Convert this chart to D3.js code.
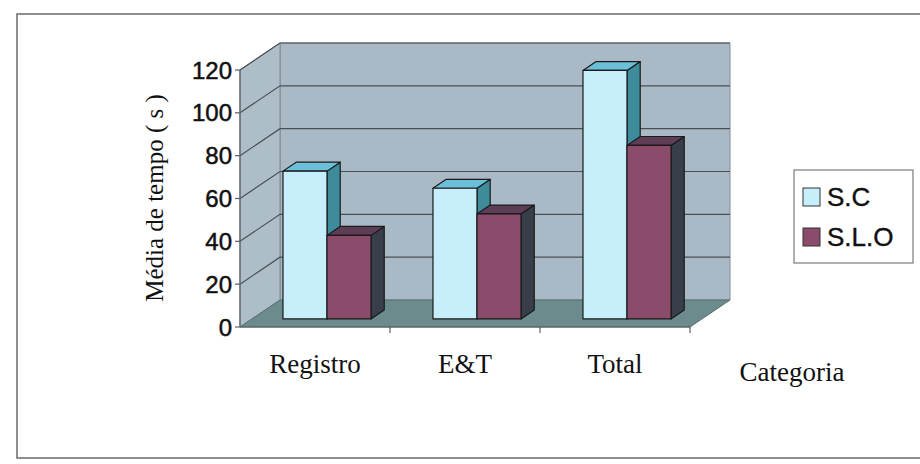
<!DOCTYPE html>
<html>
<head>
<meta charset="utf-8">
<script src="https://cdnjs.cloudflare.com/ajax/libs/d3/7.8.5/d3.min.js"></script>
<style>
  html, body { margin: 0; padding: 0; background: #fff; }
  svg { display: block; }
</style>
</head>
<body>
<div id="chart"></div>
<script>
const categorias = ["Registro", "E&T", "Total"];
const series = ["S.C", "S.L.O"];
const valoresSC = [69, 61, 116];
const valoresSLO = [39, 49, 81];
const yTicks = [0, 20, 40, 60, 80, 100, 120];

const width = 920, height = 464;
const svg = d3.select("#chart").append("svg")
  .attr("width", width).attr("height", height);

// moldura
svg.append("path")
  .attr("d", "M930,14 L17,14 L17,458 L930,458")
  .attr("fill", "none").attr("stroke", "#6a6a6a").attr("stroke-width", 1.5);

// geometria 3D (deslocamento da profundidade)
const DX = 40, DY = -27;
const x0 = 240, x1 = 690;

const x = d3.scaleBand().domain(categorias).range([x0, x1])
  .paddingInner(0.413).paddingOuter(0.2065);
const xs = d3.scaleBand().domain(series).range([0, x.bandwidth()]);
const y = d3.scaleLinear().domain([0, 120]).range([327, 70]);

const P = (px, v, d) => [px + d * DX, y(v) + d * DY];
const poly = pts => "M" + pts.map(p => p.join(",")).join("L") + "Z";

const gWall = svg.append("g");
// parede do fundo
gWall.append("path")
  .attr("d", poly([P(x0, 0, 1), P(x1, 0, 1), P(x1, 120, 1), P(x0, 120, 1)]))
  .attr("fill", "#a9b9c5").attr("stroke", "#7d8a94").attr("stroke-width", 1);
// parede lateral
gWall.append("path")
  .attr("d", poly([P(x0, 0, 0), P(x0, 0, 1), P(x0, 120, 1), P(x0, 120, 0)]))
  .attr("fill", "#aebec9").attr("stroke", "#7d8a94").attr("stroke-width", 1);
// piso
gWall.append("path")
  .attr("d", poly([P(x0, 0, 0), P(x1, 0, 0), P(x1, 0, 1), P(x0, 0, 1)]))
  .attr("fill", "#6b8b8c").attr("stroke", "#55706f").attr("stroke-width", 1);

// linhas de grade
yTicks.filter(v => v > 0).forEach(v => {
  gWall.append("path")
    .attr("d", "M" + P(x0, v, 0) + "L" + P(x0, v, 1) + "L" + P(x1, v, 1))
    .attr("fill", "none").attr("stroke", "#4a5054").attr("stroke-width", 1.2);
});

// eixo y
const gAxis = svg.append("g");
gAxis.append("line")
  .attr("x1", x0).attr("x2", x0).attr("y1", y(0)).attr("y2", y(120))
  .attr("stroke", "#5a6066").attr("stroke-width", 1.2);
yTicks.forEach(v => {
  gAxis.append("line")
    .attr("x1", x0 - 5).attr("x2", x0).attr("y1", y(v)).attr("y2", y(v))
    .attr("stroke", "#5a6066").attr("stroke-width", 1.2);
  gAxis.append("text")
    .attr("x", x0 - 8).attr("y", y(v)).attr("dy", "0.36em")
    .attr("text-anchor", "end")
    .attr("font-family", "Liberation Sans, Arial, sans-serif")
    .attr("font-size", 24).attr("fill", "#111")
    .attr("stroke", "#111").attr("stroke-width", 0.5)
    .text(v);
});

// eixo x (borda frontal do piso)
gAxis.append("line")
  .attr("x1", x0).attr("x2", x1).attr("y1", y(0)).attr("y2", y(0))
  .attr("stroke", "#5a6066").attr("stroke-width", 1.2);
categorias.forEach((c, i) => {
  const xt = x0 + x.step() * (i + 1);
  gAxis.append("line")
    .attr("x1", xt).attr("x2", xt).attr("y1", y(0)).attr("y2", y(0) + 6)
    .attr("stroke", "#5a6066").attr("stroke-width", 1.2);
});

// barras 3D
const cores = {
  "S.C": { front: "#c6effb", top: "#6cbfd8", side: "#3d8b9b" },
  "S.L.O": { front: "#8b4b6b", top: "#5e3d57", side: "#383f4a" }
};
const d0 = 0.3, d1 = 0.63;
const gBars = svg.append("g");
categorias.forEach((c, i) => {
  [[series[0], valoresSC[i]], [series[1], valoresSLO[i]]].forEach(([s, v]) => {
    const bx0 = x(c) + xs(s), bx1 = bx0 + xs.bandwidth();
    const col = cores[s];
    const g = gBars.append("g")
      .attr("stroke", "#1a1a1a").attr("stroke-width", 1.2).attr("stroke-linejoin", "round");
    g.append("path")
      .attr("d", poly([P(bx1, 0, d0), P(bx1, 0, d1), P(bx1, v, d1), P(bx1, v, d0)]))
      .attr("fill", col.side);
    g.append("path")
      .attr("d", poly([P(bx0, v, d0), P(bx1, v, d0), P(bx1, v, d1), P(bx0, v, d1)]))
      .attr("fill", col.top);
    g.append("path")
      .attr("d", poly([P(bx0, 0, d0), P(bx1, 0, d0), P(bx1, v, d0), P(bx0, v, d0)]))
      .attr("fill", col.front);
  });
});

// rótulos das categorias
const serif = "Liberation Serif, Times New Roman, serif";
categorias.forEach(c => {
  svg.append("text")
    .attr("x", x(c) + x.bandwidth() / 2).attr("y", 373)
    .attr("text-anchor", "middle")
    .attr("font-family", serif)
    .attr("font-size", 27).attr("fill", "#111")
    .text(c);
});
svg.append("text")
  .attr("x", 792).attr("y", 381)
  .attr("text-anchor", "middle")
  .attr("font-family", serif)
  .attr("font-size", 27).attr("fill", "#111")
  .text("Categoria");

// título do eixo y
svg.append("text")
  .attr("transform", "translate(163,198) rotate(-90)")
  .attr("text-anchor", "middle")
  .attr("font-family", serif)
  .attr("font-size", 25).attr("fill", "#111")
  .text("Média de tempo ( s )");

// legenda
const leg = svg.append("g").attr("transform", "translate(794,170)");
leg.append("rect")
  .attr("width", 119).attr("height", 93)
  .attr("fill", "#fff").attr("stroke", "#7a7a7a").attr("stroke-width", 1.2);
series.forEach((s, i) => {
  const row = leg.append("g").attr("transform", `translate(9,${18 + i * 40})`);
  row.append("rect")
    .attr("width", 17).attr("height", 18)
    .attr("fill", cores[s].front).attr("stroke", "#333").attr("stroke-width", 1);
  row.append("text")
    .attr("x", 24).attr("y", 9).attr("dy", "0.36em")
    .attr("font-family", "Liberation Sans, Arial, sans-serif")
    .attr("font-size", 26).attr("fill", "#111")
    .attr("stroke", "#111").attr("stroke-width", 0.4)
    .text(s);
});
</script>
</body>
</html>
